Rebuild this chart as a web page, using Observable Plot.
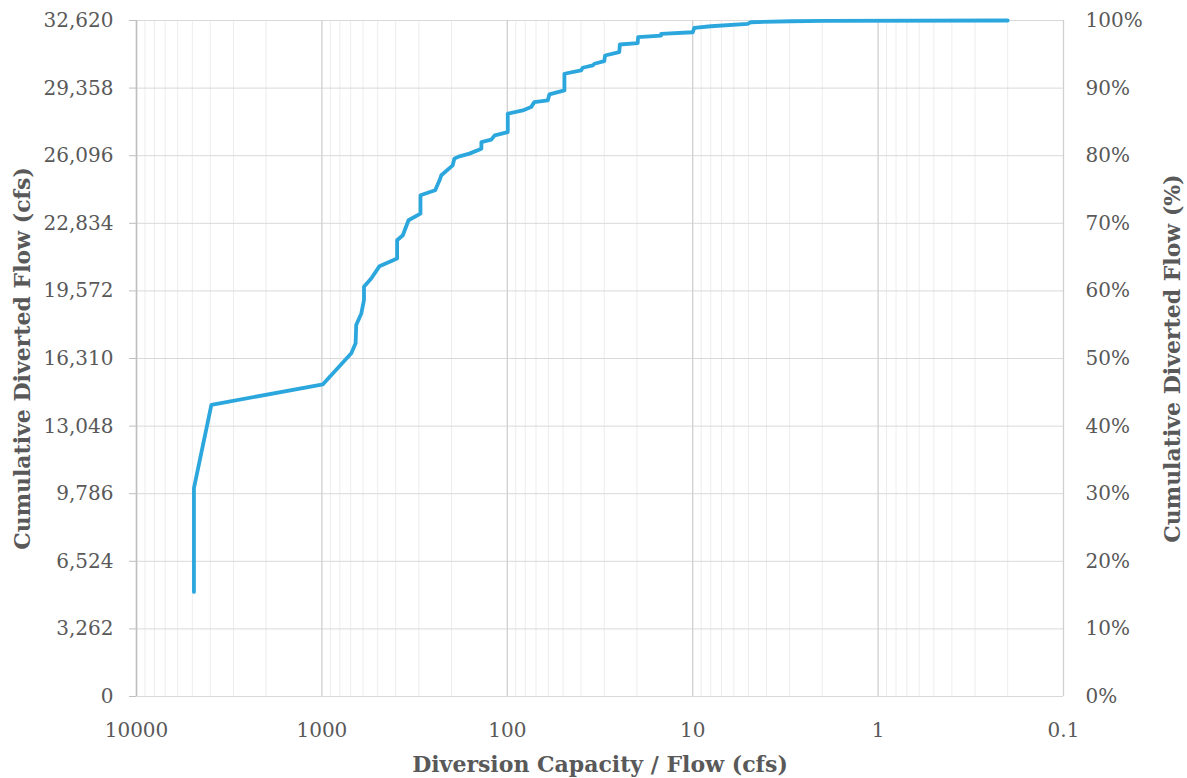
<!DOCTYPE html>
<html>
<head>
<meta charset="utf-8">
<script src="https://cdn.jsdelivr.net/npm/d3@7"></script>
<script src="https://cdn.jsdelivr.net/npm/@observablehq/plot@0.6"></script>
<style>
  html, body { margin: 0; padding: 0; background: #ffffff; }
  #chart svg { display: block; }
</style>
</head>
<body>
<div id="chart"></div>
<script>
// Diversion capacity / flow (cfs) (log axis, reversed)
const capacity = [
  4900, 4900, 3946, 987, 694, 658, 653, 613, 593, 593,
  542, 489, 393, 393, 366, 341, 294, 294, 245, 232,
  227, 197, 193, 181, 160, 138, 138, 122, 117, 99.4,
  99.4, 82.5, 74.4, 71.5, 60.5, 59.3, 49.2, 49.2, 40.0, 39.2,
  34.6, 33.9, 30.0, 29.7, 24.9, 24.7, 19.8, 19.7, 14.8, 14.8,
  10.0, 9.8, 7.98, 5.06, 4.86, 2.96, 1.96, 0.2
];
// Cumulative diverted flow (cfs)
const cumulative = [
  5044, 10055, 14069, 15066, 16560, 17041, 17923, 18487, 19127, 19768,
  20173, 20766, 21137, 22018, 22259, 22982, 23305, 24186, 24427, 24909,
  25150, 25632, 25955, 26065, 26196, 26436, 26754, 26870, 27077, 27236,
  28123, 28282, 28441, 28682, 28763, 29053, 29245, 30050, 30209, 30339,
  30450, 30532, 30657, 30932, 31091, 31462, 31524, 31813, 31895, 31977,
  32054, 32266, 32343, 32459, 32536, 32584, 32600, 32620
];
const totalFlow = 32620;
const yTicks = [0, 3262, 6524, 9786, 13048, 16310, 19572, 22834, 26096, 29358, 32620];
const xTicks = [10000, 1000, 100, 10, 1, 0.1];
const xTitle = "Diversion Capacity / Flow (cfs)";
const yTitle = "Cumulative Diverted Flow (cfs)";
const y2Title = "Cumulative Diverted Flow (%)";

const data = capacity.map((c, i) => ({capacity: c, flow: cumulative[i]}));
const minorTicks = d3.range(-1, 4).flatMap(e => d3.range(2, 10).map(k => k * Math.pow(10, e)));

const titleStyle = {fontFamily: "DejaVu Serif", fontWeight: "bold", fontSize: 22, fill: "#595959", stroke: null, textAnchor: "middle"};

const chart = Plot.plot({
  width: 1187,
  height: 778,
  marginLeft: 136,
  marginRight: 124,
  marginTop: 20,
  marginBottom: 82,
  style: {fontFamily: "DejaVu Serif", fontSize: "20px", color: "#595959", background: "#ffffff"},
  x: {type: "log", domain: [10000, 0.1]},
  y: {domain: [0, totalFlow]},
  marks: [
    Plot.ruleX(minorTicks, {stroke: "#EDEDED", strokeWidth: 1}),
    Plot.ruleY(yTicks, {stroke: "#D9D9D9", strokeWidth: 1}),
    Plot.ruleX(xTicks, {stroke: "#D0D0D0", strokeWidth: 1.3}),
    Plot.ruleX([10000], {stroke: "#BFBFBF", strokeWidth: 1.5}),
    Plot.axisY({ticks: yTicks, tickFormat: d3.format(","), tickSize: 7, tickPadding: 16, stroke: "#BFBFBF", fill: "#595959", label: null}),
    Plot.axisY({anchor: "right", ticks: yTicks, tickFormat: d => Math.round(d / totalFlow * 100) + "%", tickSize: 0, tickPadding: 22, fill: "#595959", label: null}),
    Plot.axisX({ticks: xTicks, tickFormat: d => String(d), tickSize: 0, tickPadding: 26, fill: "#595959", label: null}),
    Plot.line(data, {x: "capacity", y: "flow", stroke: "#2BA7DD", strokeWidth: 3.8, strokeLinejoin: "round", strokeLinecap: "round"}),
    Plot.text([xTitle], {frameAnchor: "bottom", dy: 75, ...titleStyle}),
    Plot.text([yTitle], {frameAnchor: "left", dx: -114, rotate: -90, ...titleStyle}),
    Plot.text([y2Title], {frameAnchor: "right", dx: 109, rotate: -90, ...titleStyle})
  ]
});
document.getElementById("chart").appendChild(chart);
</script>
</body>
</html>
